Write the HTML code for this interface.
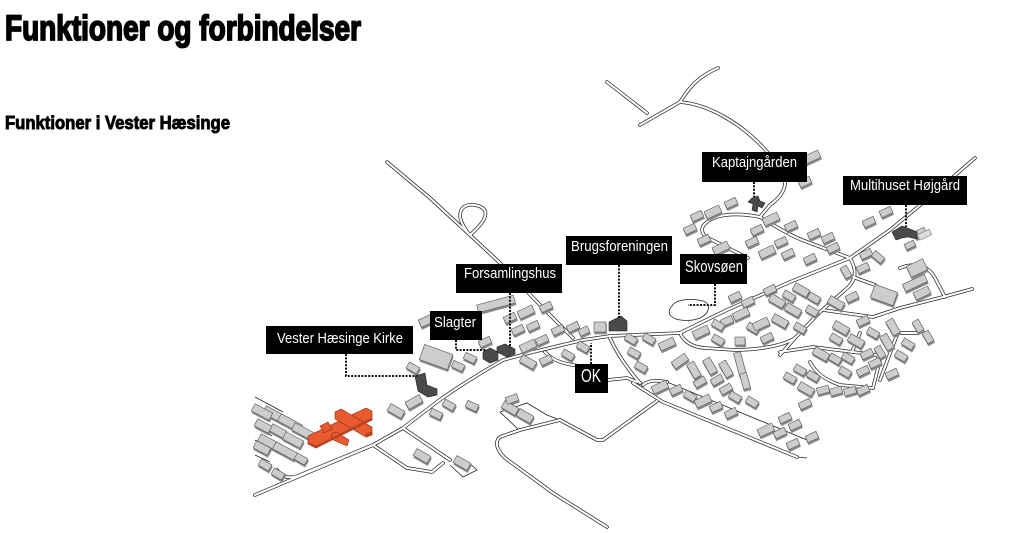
<!DOCTYPE html>
<html><head><meta charset="utf-8"><style>
html,body{margin:0;padding:0;background:#fff;}
svg{display:block;}
</style></head><body>
<svg width="1024" height="533" viewBox="0 0 1024 533" xmlns="http://www.w3.org/2000/svg">
<defs>
<filter id="sh" x="-20%" y="-20%" width="140%" height="160%">
<feDropShadow dx="0.6" dy="2" stdDeviation="0" flood-color="#8a8a8a" flood-opacity="1"/>
</filter>
</defs>
<rect width="1024" height="533" fill="#fff"/>
<text x="5" y="40" font-family="Liberation Sans Narrow, Liberation Sans, sans-serif" font-weight="bold" font-size="35" stroke="#000" stroke-width="1.8" textLength="356" lengthAdjust="spacingAndGlyphs">Funktioner og forbindelser</text>
<text x="5" y="129" font-family="Liberation Sans Narrow, Liberation Sans, sans-serif" font-weight="bold" font-size="18" stroke="#000" stroke-width="0.9" textLength="225" lengthAdjust="spacingAndGlyphs">Funktioner i Vester Hæsinge</text>

<!-- thin lot lines -->
<g fill="none" stroke="#222" stroke-width="0.8">
<path d="M255,397 L283,412 M255,405 L265,411 M255,455 L270,462 M255,425 L272,436 M255,440 L262,445"/>
<path d="M500,412 L520,431 M500,412 L527,403 L547,415 L560,420"/>
<path d="M450,465 L463,477 L477,470 L468,462"/>
<path d="M667,382 L807,440 M797,457 L807,458"/>
</g>

<!-- roads -->
<g fill="none" stroke-linejoin="round" stroke-linecap="round">
<g stroke="#2a2a2a" stroke-width="3.6">
<path d="M255,495 L373,445 L403,428 L437,402 Q460,385 503,360 L533,352 L583,340 L610,336 L680,333 Q700,323 727,310 L790,282 L850,258 L890,230 L930,197 L975,158"/>
<path d="M387,162 L430,198 L470,235 L500,263 L540,305 L573,338"/>
<path d="M470,235 C452,214 462,203 474,205 C488,207 492,216 470,235"/>
<path d="M607,82 L647,113"/>
<path d="M640,125 L680,102 C688,90 695,78 718,68"/>
<path d="M680,102 C705,104 740,120 770,155 C792,178 788,192 770,205 L760,217"/>
<path d="M760,217 C735,212 712,214 703,226 C700,233 705,237 712,240 L748,258"/>
<path d="M760,217 C775,226 790,236 810,243 L850,258"/>
<path d="M850,258 C856,268 858,280 845,290 L820,312 L795,338 L780,355"/>
<path d="M680,333 C684,342 692,347 705,348 L735,350 C760,350 785,345 795,338"/>
<path d="M780,352 L813,347 L877,355 L880,360 L873,388"/>
<path d="M810,362 C815,372 825,380 840,385 L873,388"/>
<path d="M823,310 L873,317 L900,308 L943,297 L972,289"/>
<path d="M853,277 L875,285"/>
<path d="M900,268 C915,262 928,265 935,278 L945,297"/>
<path d="M860,333 L852,352 M897,333 L917,333 M897,335 L880,380"/>
<path d="M610,338 C615,350 628,370 640,383"/>
<path d="M608,380 L627,378 L637,382"/>
<path d="M545,352 C552,360 562,364 580,366"/>
<path d="M633,383 L663,402 L797,457"/>
<path d="M643,385 C648,380 658,380 667,382"/>
<path d="M657,401 L603,440 L597,440 L560,420"/>
<path d="M560,420 L520,430 L500,437 C494,442 497,450 505,458 L553,493 L607,527"/>
<path d="M373,445 L407,468 L432,472 L443,463"/>
<path d="M403,428 L450,460"/>
<path d="M277,470 C283,478 290,479 300,475 L373,445"/>
</g>
<g stroke="#fff" stroke-width="2.1">
<path d="M255,495 L373,445 L403,428 L437,402 Q460,385 503,360 L533,352 L583,340 L610,336 L680,333 Q700,323 727,310 L790,282 L850,258 L890,230 L930,197 L975,158"/>
<path d="M387,162 L430,198 L470,235 L500,263 L540,305 L573,338"/>
<path d="M470,235 C452,214 462,203 474,205 C488,207 492,216 470,235"/>
<path d="M607,82 L647,113"/>
<path d="M640,125 L680,102 C688,90 695,78 718,68"/>
<path d="M680,102 C705,104 740,120 770,155 C792,178 788,192 770,205 L760,217"/>
<path d="M760,217 C735,212 712,214 703,226 C700,233 705,237 712,240 L748,258"/>
<path d="M760,217 C775,226 790,236 810,243 L850,258"/>
<path d="M850,258 C856,268 858,280 845,290 L820,312 L795,338 L780,355"/>
<path d="M680,333 C684,342 692,347 705,348 L735,350 C760,350 785,345 795,338"/>
<path d="M780,352 L813,347 L877,355 L880,360 L873,388"/>
<path d="M810,362 C815,372 825,380 840,385 L873,388"/>
<path d="M823,310 L873,317 L900,308 L943,297 L972,289"/>
<path d="M853,277 L875,285"/>
<path d="M900,268 C915,262 928,265 935,278 L945,297"/>
<path d="M860,333 L852,352 M897,333 L917,333 M897,335 L880,380"/>
<path d="M610,338 C615,350 628,370 640,383"/>
<path d="M608,380 L627,378 L637,382"/>
<path d="M545,352 C552,360 562,364 580,366"/>
<path d="M633,383 L663,402 L797,457"/>
<path d="M643,385 C648,380 658,380 667,382"/>
<path d="M657,401 L603,440 L597,440 L560,420"/>
<path d="M560,420 L520,430 L500,437 C494,442 497,450 505,458 L553,493 L607,527"/>
<path d="M373,445 L407,468 L432,472 L443,463"/>
<path d="M403,428 L450,460"/>
<path d="M277,470 C283,478 290,479 300,475 L373,445"/>
</g>
</g>

<!-- lake -->
<path d="M672,306 C676,299 692,298 703,301 C712,304 709,314 700,318 C690,322 676,321 671,316 C668,313 669,309 672,306 Z" fill="#fff" stroke="#222" stroke-width="0.8"/>

<!-- buildings -->
<g fill="#cdcdcd" stroke="#555" stroke-width="0.6" filter="url(#sh)">
<!-- left cluster -->
<rect x="-12" y="-4" width="24" height="8" transform="translate(275,415) rotate(28)"/>
<rect x="-12" y="-4" width="24" height="8" transform="translate(290,423) rotate(28)"/>
<rect x="-12" y="-4" width="24" height="8" transform="translate(304,432) rotate(28)"/>
<rect x="-12" y="-4" width="24" height="8" transform="translate(270,443) rotate(28)"/>
<rect x="-12" y="-4" width="24" height="8" transform="translate(285,451) rotate(28)"/>
<rect x="-8" y="-4" width="16" height="8" transform="translate(278,431) rotate(28)"/>
<rect x="-8" y="-4" width="16" height="8" transform="translate(263,426) rotate(28)"/>
<rect x="-10" y="-4" width="20" height="8" transform="translate(262,412) rotate(28)"/>
<rect x="-10" y="-4" width="20" height="8" transform="translate(293,440) rotate(28)"/>
<rect x="-8" y="-4" width="16" height="8" transform="translate(262,448) rotate(28)"/>
<rect x="-6" y="-3.5" width="12" height="7" transform="translate(265,465) rotate(30)"/>
<rect x="-6" y="-3.5" width="12" height="7" transform="translate(278,474) rotate(30)"/>
<rect x="-6" y="-3.5" width="12" height="7" transform="translate(301,459) rotate(30)"/>
<!-- near kirke -->
<rect x="-6" y="-3.5" width="12" height="7" transform="translate(413,368) rotate(30)"/>
<rect x="-8" y="-4" width="16" height="8" transform="translate(396,411) rotate(30)"/>
<rect x="-8" y="-4" width="16" height="8" transform="translate(414,402) rotate(-30)"/>
<rect x="-6" y="-3.5" width="12" height="7" transform="translate(436,414) rotate(25)"/>
<rect x="-6" y="-3.5" width="12" height="7" transform="translate(449,405) rotate(30)"/>
<rect x="-6" y="-3.5" width="12" height="7" transform="translate(472,406) rotate(25)"/>
<rect x="-8" y="-4" width="16" height="8" transform="translate(510,408) rotate(30)"/>
<rect x="-8" y="-4" width="16" height="8" transform="translate(525,416) rotate(30)"/>
<rect x="-6" y="-3.5" width="12" height="7" transform="translate(512,399) rotate(-20)"/>
<rect x="-8" y="-4" width="16" height="8" transform="translate(422,456) rotate(30)"/>
<rect x="-8" y="-4" width="16" height="8" transform="translate(462,463) rotate(30)"/>
<!-- slagter / forsamlingshus area -->
<rect x="-19" y="-4" width="38" height="8" transform="translate(496,304) rotate(-15)"/>
<rect x="-9" y="-4" width="18" height="8" transform="translate(428,320) rotate(-25)"/>
<rect x="-15" y="-8" width="30" height="16" transform="translate(436,357) rotate(20)"/>
<rect x="-6" y="-3.5" width="12" height="7" transform="translate(458,366) rotate(25)"/>
<rect x="-6" y="-3.5" width="12" height="7" transform="translate(470,358) rotate(25)"/>
<rect x="-6" y="-3.5" width="12" height="7" transform="translate(485,342) rotate(-25)"/>
<rect x="-6" y="-3.5" width="12" height="7" transform="translate(510,318) rotate(-25)"/>
<rect x="-8" y="-4" width="16" height="8" transform="translate(526,312) rotate(-25)"/>
<rect x="-6" y="-3.5" width="12" height="7" transform="translate(533,326) rotate(-25)"/>
<rect x="-6" y="-3.5" width="12" height="7" transform="translate(546,307) rotate(-25)"/>
<rect x="-6" y="-3.5" width="12" height="7" transform="translate(518,330) rotate(-25)"/>
<rect x="-8" y="-4" width="16" height="8" transform="translate(528,346) rotate(-25)"/>
<rect x="-6" y="-3.5" width="12" height="7" transform="translate(542,340) rotate(-25)"/>
<rect x="-8" y="-4" width="16" height="8" transform="translate(528,362) rotate(30)"/>
<rect x="-6" y="-3.5" width="12" height="7" transform="translate(546,360) rotate(-25)"/>
<rect x="-6" y="-3.5" width="12" height="7" transform="translate(558,330) rotate(-25)"/>
<rect x="-6" y="-3.5" width="12" height="7" transform="translate(573,327) rotate(-25)"/>
<rect x="-6" y="-3.5" width="12" height="7" transform="translate(568,355) rotate(30)"/>
<rect x="-6" y="-3.5" width="12" height="7" transform="translate(583,347) rotate(30)"/>
<!-- brugs area -->
<rect x="-6" y="-5" width="12" height="10" transform="translate(600,327)"/>
<rect x="-5" y="-3.5" width="10" height="7" transform="translate(584,331) rotate(-25)"/>
<rect x="-6" y="-3.5" width="12" height="7" transform="translate(631,339) rotate(30)"/>
<rect x="-6" y="-3.5" width="12" height="7" transform="translate(649,339) rotate(30)"/>
<rect x="-8" y="-4" width="16" height="8" transform="translate(667,344) rotate(-25)"/>
<rect x="-6" y="-3.5" width="12" height="7" transform="translate(634,353) rotate(30)"/>
<rect x="-6" y="-3.5" width="12" height="7" transform="translate(641,367) rotate(30)"/>
<!-- strip -->
<rect x="-8" y="-4" width="16" height="8" transform="translate(660,387) rotate(-25)"/>
<rect x="-6" y="-3.5" width="12" height="7" transform="translate(676,390) rotate(-25)"/>
<rect x="-6" y="-3.5" width="12" height="7" transform="translate(690,396) rotate(30)"/>
<rect x="-8" y="-4" width="16" height="8" transform="translate(703,401) rotate(-25)"/>
<rect x="-6" y="-3.5" width="12" height="7" transform="translate(716,407) rotate(-25)"/>
<rect x="-6" y="-3.5" width="12" height="7" transform="translate(731,413) rotate(-25)"/>
<rect x="-8" y="-4" width="16" height="8" transform="translate(766,430) rotate(-25)"/>
<rect x="-6" y="-3.5" width="12" height="7" transform="translate(780,433) rotate(-25)"/>
<rect x="-6" y="-3.5" width="12" height="7" transform="translate(793,444) rotate(-25)"/>
<rect x="-6" y="-3.5" width="12" height="7" transform="translate(795,425) rotate(-25)"/>
<rect x="-6" y="-3.5" width="12" height="7" transform="translate(812,437) rotate(-25)"/>
<rect x="-6" y="-3.5" width="12" height="7" transform="translate(785,418) rotate(-25)"/>
<rect x="-6" y="-3.5" width="12" height="7" transform="translate(805,404) rotate(-25)"/>
<!-- between inner road and strip -->
<rect x="-8" y="-4" width="16" height="8" transform="translate(680,361) rotate(-35)"/>
<rect x="-8" y="-4" width="16" height="8" transform="translate(694,370) rotate(60)"/>
<rect x="-6" y="-3.5" width="12" height="7" transform="translate(700,382) rotate(-30)"/>
<rect x="-8" y="-4" width="16" height="8" transform="translate(710,366) rotate(60)"/>
<rect x="-6" y="-3.5" width="12" height="7" transform="translate(717,380) rotate(-30)"/>
<rect x="-8" y="-4" width="16" height="8" transform="translate(726,369) rotate(60)"/>
<rect x="-6" y="-3.5" width="12" height="7" transform="translate(726,389) rotate(-30)"/>
<rect x="-12" y="-3.5" width="24" height="7" transform="translate(740,364) rotate(75)"/>
<rect x="-8" y="-3.5" width="16" height="7" transform="translate(745,381) rotate(75)"/>
<rect x="-6" y="-3.5" width="12" height="7" transform="translate(735,397) rotate(30)"/>
<rect x="-6" y="-3.5" width="12" height="7" transform="translate(752,402) rotate(30)"/>
<!-- main block -->
<rect x="-8" y="-4" width="16" height="8" transform="translate(701,332) rotate(-25)"/>
<rect x="-6" y="-3.5" width="12" height="7" transform="translate(718,340) rotate(30)"/>
<rect x="-6" y="-3.5" width="12" height="7" transform="translate(727,321) rotate(-25)"/>
<rect x="-8" y="-4" width="16" height="8" transform="translate(741,314) rotate(-25)"/>
<rect x="-6" y="-3.5" width="12" height="7" transform="translate(748,302) rotate(-25)"/>
<rect x="-6" y="-3.5" width="12" height="7" transform="translate(753,328) rotate(30)"/>
<rect x="-6" y="-3.5" width="12" height="7" transform="translate(767,338) rotate(-25)"/>
<rect x="-5" y="-4" width="10" height="8" transform="translate(740,341)"/>
<rect x="-8" y="-4" width="16" height="8" transform="translate(761,324) rotate(-25)"/>
<rect x="-8" y="-4" width="16" height="8" transform="translate(777,301) rotate(30)"/>
<rect x="-6" y="-3.5" width="12" height="7" transform="translate(789,296) rotate(30)"/>
<rect x="-8" y="-4" width="16" height="8" transform="translate(801,290) rotate(30)"/>
<rect x="-6" y="-3.5" width="12" height="7" transform="translate(814,298) rotate(30)"/>
<rect x="-8" y="-4" width="16" height="8" transform="translate(793,310) rotate(30)"/>
<rect x="-6" y="-3.5" width="12" height="7" transform="translate(812,311) rotate(30)"/>
<rect x="-8" y="-4" width="16" height="8" transform="translate(780,321) rotate(30)"/>
<rect x="-6" y="-3.5" width="12" height="7" transform="translate(800,328) rotate(30)"/>
<rect x="-6" y="-3.5" width="12" height="7" transform="translate(770,290) rotate(-25)"/>
<rect x="-6" y="-3.5" width="12" height="7" transform="translate(735,297) rotate(-25)"/>
<rect x="-6" y="-3.5" width="12" height="7" transform="translate(718,325) rotate(30)"/>
<!-- north of main road -->
<rect x="-6" y="-3.5" width="12" height="7" transform="translate(697,216) rotate(-25)"/>
<rect x="-8" y="-4" width="16" height="8" transform="translate(713,212) rotate(-25)"/>
<rect x="-6" y="-3.5" width="12" height="7" transform="translate(731,203) rotate(-25)"/>
<rect x="-6" y="-3.5" width="12" height="7" transform="translate(690,229) rotate(-25)"/>
<rect x="-6" y="-3.5" width="12" height="7" transform="translate(704,240) rotate(-25)"/>
<rect x="-8" y="-4" width="16" height="8" transform="translate(721,248) rotate(-25)"/>
<rect x="-6" y="-3.5" width="12" height="7" transform="translate(752,242) rotate(-25)"/>
<rect x="-8" y="-4" width="16" height="8" transform="translate(771,219) rotate(-25)"/>
<rect x="-6" y="-3.5" width="12" height="7" transform="translate(757,230) rotate(-25)"/>
<rect x="-6" y="-3.5" width="12" height="7" transform="translate(791,226) rotate(-25)"/>
<rect x="-6" y="-3.5" width="12" height="7" transform="translate(781,242) rotate(-25)"/>
<rect x="-8" y="-4" width="16" height="8" transform="translate(767,252) rotate(-25)"/>
<rect x="-6" y="-3.5" width="12" height="7" transform="translate(788,254) rotate(-25)"/>
<rect x="-6" y="-3.5" width="12" height="7" transform="translate(810,259) rotate(-25)"/>
<rect x="-6" y="-3.5" width="12" height="7" transform="translate(814,234) rotate(-25)"/>
<rect x="-6" y="-3.5" width="12" height="7" transform="translate(828,238) rotate(-25)"/>
<rect x="-6" y="-3.5" width="12" height="7" transform="translate(833,248) rotate(-25)"/>
<rect x="-6" y="-3.5" width="12" height="7" transform="translate(869,222) rotate(-25)"/>
<rect x="-6" y="-3.5" width="12" height="7" transform="translate(886,212) rotate(-25)"/>
<rect x="-6" y="-3.5" width="12" height="7" transform="translate(866,254) rotate(-25)"/>
<rect x="-6" y="-3.5" width="12" height="7" transform="translate(878,257) rotate(40)"/>
<rect x="-6" y="-3.5" width="12" height="7" transform="translate(863,268) rotate(-25)"/>
<rect x="-6" y="-3.5" width="12" height="7" transform="translate(846,272) rotate(60)"/>
<rect x="-8" y="-4" width="16" height="8" transform="translate(812,157) rotate(-25)"/>
<rect x="-6" y="-3.5" width="12" height="7" transform="translate(805,182) rotate(-25)"/>
<rect x="-6" y="-3.5" width="12" height="7" transform="translate(920,233) rotate(-25)"/>
<rect x="-5" y="-3" width="10" height="6" transform="translate(910,245) rotate(-25)"/>
<!-- right area -->
<rect x="-9" y="-6" width="18" height="12" transform="translate(917,268) rotate(-25)"/>
<rect x="-12" y="-4" width="24" height="8" transform="translate(915,283) rotate(-25)"/>
<rect x="-8" y="-4" width="16" height="8" transform="translate(922,293) rotate(-25)"/>
<rect x="-12" y="-7" width="24" height="14" transform="translate(884,295) rotate(20)"/>
<rect x="-8" y="-4" width="16" height="8" transform="translate(841,328) rotate(30)"/>
<rect x="-6" y="-3.5" width="12" height="7" transform="translate(836,339) rotate(30)"/>
<rect x="-6" y="-3.5" width="12" height="7" transform="translate(863,321) rotate(-25)"/>
<rect x="-8" y="-4" width="16" height="8" transform="translate(856,341) rotate(30)"/>
<rect x="-6" y="-3.5" width="12" height="7" transform="translate(873,333) rotate(30)"/>
<rect x="-8" y="-4" width="16" height="8" transform="translate(893,327) rotate(60)"/>
<rect x="-8" y="-4" width="16" height="8" transform="translate(887,342) rotate(60)"/>
<rect x="-6" y="-3.5" width="12" height="7" transform="translate(880,352) rotate(60)"/>
<rect x="-6" y="-3.5" width="12" height="7" transform="translate(918,326) rotate(60)"/>
<rect x="-6" y="-3.5" width="12" height="7" transform="translate(928,337) rotate(60)"/>
<rect x="-6" y="-3.5" width="12" height="7" transform="translate(908,344) rotate(30)"/>
<rect x="-6" y="-3.5" width="12" height="7" transform="translate(901,356) rotate(30)"/>
<rect x="-6" y="-3.5" width="12" height="7" transform="translate(800,370) rotate(30)"/>
<rect x="-6" y="-3.5" width="12" height="7" transform="translate(813,376) rotate(30)"/>
<rect x="-8" y="-4" width="16" height="8" transform="translate(806,389) rotate(30)"/>
<rect x="-6" y="-3.5" width="12" height="7" transform="translate(823,390) rotate(-15)"/>
<rect x="-6" y="-3.5" width="12" height="7" transform="translate(836,391) rotate(-15)"/>
<rect x="-6" y="-3.5" width="12" height="7" transform="translate(850,391) rotate(-15)"/>
<rect x="-6" y="-3.5" width="12" height="7" transform="translate(863,390) rotate(-25)"/>
<rect x="-6" y="-3.5" width="12" height="7" transform="translate(863,371) rotate(-25)"/>
<rect x="-6" y="-3.5" width="12" height="7" transform="translate(875,363) rotate(-25)"/>
<rect x="-6" y="-3.5" width="12" height="7" transform="translate(892,374) rotate(-25)"/>
<rect x="-8" y="-4" width="16" height="8" transform="translate(821,354) rotate(30)"/>
<rect x="-6" y="-3.5" width="12" height="7" transform="translate(835,359) rotate(30)"/>
<rect x="-6" y="-3.5" width="12" height="7" transform="translate(848,358) rotate(30)"/>
<rect x="-6" y="-3.5" width="12" height="7" transform="translate(867,354) rotate(-25)"/>
<rect x="-6" y="-3.5" width="12" height="7" transform="translate(845,372) rotate(30)"/>
<rect x="-6" y="-3.5" width="12" height="7" transform="translate(790,378) rotate(30)"/>
<rect x="-8" y="-4" width="16" height="8" transform="translate(836,303) rotate(30)"/>
<rect x="-6" y="-3.5" width="12" height="7" transform="translate(852,297) rotate(-25)"/>
</g>

<!-- church (red) -->
<g fill="#e85a30" stroke="#8a2c12" stroke-width="0.6">
<polygon points="308,436 366,408 372,411 372,420 316,448 308,444"/>
<polygon points="335,412 341,409 372,427 372,435 366,437 335,419"/>
<polygon points="332,434 336,432 349,440 347,446 331,439"/>
<polygon points="320,426 328,422 332,429 324,433"/>
</g>
<g fill="#c84420" stroke="#8a2c12" stroke-width="0.4">
<polygon points="308,442 316,446 372,418 372,420 316,448 308,444"/>
<polygon points="366,434 372,432 372,435 366,437"/>
</g>

<!-- dark function buildings -->
<g fill="#4a4a4a" stroke="#222" stroke-width="0.6">
<polygon points="415,376 425,373 427,385 437,389 437,395 428,397 418,391"/>
<polygon points="483,352 490,348 498,352 498,360 490,363 483,359"/>
<polygon points="497,347 505,344 515,349 515,354 507,357 497,352"/>
<polygon points="609,322 617,318 621,316 627,321 627,331 609,331"/>
<polygon points="752,198 758,196 760,201 765,203 762,208 758,206 757,212 752,210 753,204 748,202"/>
<polygon points="892,232 902,226 910,229 917,232 917,239 908,237 902,238 896,240"/>
</g>
<rect x="918" y="232" width="13" height="6" fill="#ddd" stroke="#777" stroke-width="0.6" transform="rotate(-25 924 235)"/>

<!-- dotted leaders -->
<g fill="none" stroke="#111" stroke-width="2" stroke-dasharray="2 1.4">
<path d="M346,354 L346,376 L417,376"/>
<path d="M456,340 L456,350 L487,350"/>
<path d="M510,293 L510,348"/>
<path d="M591,364 L591,343"/>
<path d="M619,265 L619,318"/>
<path d="M715,284 L715,305 L688,305"/>
<path d="M754,182 L754,197"/>
<path d="M906,205 L906,227"/>
</g>

<!-- labels -->
<g fill="#000">
<rect x="266" y="326" width="147" height="28"/>
<rect x="430" y="311" width="52" height="29"/>
<rect x="456" y="264" width="106" height="29"/>
<rect x="575" y="364" width="33" height="29"/>
<rect x="566" y="236" width="106" height="29"/>
<rect x="680" y="254" width="67" height="30"/>
<rect x="702" y="152" width="105" height="30"/>
<rect x="843" y="176" width="124" height="29"/>
</g>
<g fill="#fff" font-family="Liberation Sans, Arial, sans-serif" font-size="15">
<text x="277" y="343" textLength="126" lengthAdjust="spacingAndGlyphs">Vester Hæsinge Kirke</text>
<text x="434" y="327" textLength="42" lengthAdjust="spacingAndGlyphs">Slagter</text>
<text x="464" y="278" textLength="92" lengthAdjust="spacingAndGlyphs">Forsamlingshus</text>
<text x="581" y="382" font-size="18" textLength="20" lengthAdjust="spacingAndGlyphs">OK</text>
<text x="571" y="251" textLength="97" lengthAdjust="spacingAndGlyphs">Brugsforeningen</text>
<text x="685" y="272" font-size="17" textLength="58" lengthAdjust="spacingAndGlyphs">Skovsøen</text>
<text x="712" y="167" textLength="85" lengthAdjust="spacingAndGlyphs">Kaptajngården</text>
<text x="850" y="190" textLength="110" lengthAdjust="spacingAndGlyphs">Multihuset Højgård</text>
</g>
</svg>
</body></html>
